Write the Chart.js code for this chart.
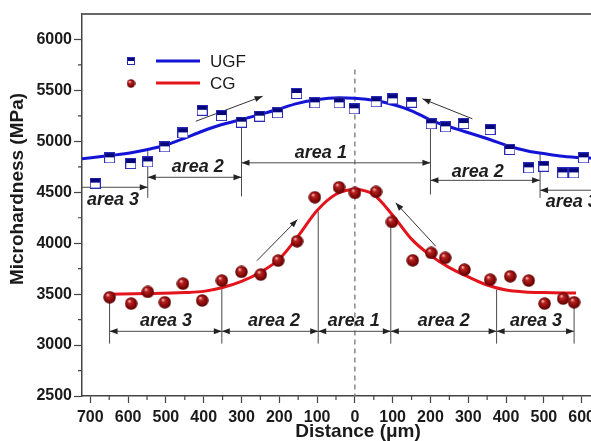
<!DOCTYPE html>
<html>
<head>
<meta charset="utf-8">
<script src="https://cdn.jsdelivr.net/npm/chart.js@4.4.0/dist/chart.umd.min.js"></script>
<style>
  html, body { margin: 0; padding: 0; background: #fff; overflow: hidden; }
  #wrap { width: 640px; height: 441px; }
</style>
</head>
<body>
<div id="wrap"><canvas id="chart" width="640" height="441"></canvas></div>
<script>
// distance in µm, negative = left of the centre line
const ugfX = [-687, -649, -593, -548, -503, -455, -404, -353, -300, -252, -205, -154, -106, -42, -2, 56, 100, 150, 202, 240, 288, 358, 410, 460, 500, 550, 579, 605];
const ugfY = [4590, 4838, 4782, 4798, 4946, 5083, 5305, 5253, 5188, 5247, 5280, 5470, 5378, 5378, 5319, 5388, 5417, 5384, 5172, 5142, 5175, 5116, 4920, 4740, 4756, 4690, 4690, 4838];

const cgX = [-649, -592, -548, -503, -455, -404, -352, -300, -249, -203, -153, -106, -42, 0, 56, 98, 153, 202, 239, 290, 358, 411, 460, 502, 551, 580];
const cgY = [3469, 3407, 3522, 3420, 3603, 3438, 3633, 3718, 3692, 3829, 4019, 4451, 4549, 4494, 4504, 4209, 3832, 3905, 3856, 3740, 3642, 3675, 3633, 3407, 3456, 3420];

// fitted curves
const ugfFitX = [-722, -649, -592, -548, -503, -455, -404, -352, -300, -252, -205, -154, -106, -42, -2, 56, 100, 150, 201, 239, 288, 357, 408, 460, 499, 550, 604, 720];
const ugfFitY = [4828, 4860, 4887, 4919, 4961, 5025, 5099, 5165, 5214, 5263, 5312, 5370, 5405, 5427, 5422, 5398, 5361, 5300, 5208, 5155, 5099, 5018, 4952, 4903, 4880, 4853, 4838, 4822];

const cgFitX = [-650, -550, -450, -400, -350, -300, -250, -200, -150, -100, -50, 0, 50, 100, 150, 200, 250, 300, 350, 400, 450, 500, 585];
const cgFitY = [3500, 3505, 3515, 3527, 3565, 3625, 3715, 3845, 4070, 4320, 4480, 4527, 4475, 4275, 4040, 3880, 3760, 3670, 3590, 3540, 3522, 3515, 3510];

const xTicks = [-700, -600, -500, -400, -300, -200, -100, 0, 100, 200, 300, 400, 500, 600, 700];
const yTicks = [2500, 3000, 3500, 4000, 4500, 5000, 5500, 6000];

// zone markers for the UGF curve
const ugfLineX = [-548, -300, 200, 490];
const ugfLineTop = [4903, 5182, 5165, 4887];
const ugfLineBottom = [4445, 4460, 4478, 4445];
const ugfSpanFrom = [-722, -548, -300, 200, 490];
const ugfSpanTo = [-548, -300, 200, 490, 720];
const ugfSpanY = [4549, 4647, 4789, 4617, 4520];
const ugfSpanHeads = ['end', 'both', 'both', 'both', 'start'];
const ugfLabels = ['area 3', 'area 2', 'area 1', 'area 2', 'area 3'];
const ugfLabelX = [-640, -416, -90, 325, 574];
const ugfLabelY = [4428, 4743, 4890, 4703, 4408];

// zone markers for the CG curve
const cgLineX = [-649, -352, -97, 95, 375, 580];
const cgLineTop = [3469, 3613, 4313, 4200, 3544, 3426];
const cgLineBottom = 3014;
const cgSpanY = 3135;
const cgLabels = ['area 3', 'area 2', 'area 1', 'area 2', 'area 3'];
const cgLabelX = [-500, -214, -3, 235, 479];
const cgLabelY = 3233;

// trend arrows (tail -> head)
const trendFromX = [-421, 311, -259, 214];
const trendFromY = [5197, 5221, 3829, 3970];
const trendToX = [-244, 179, -152, 108];
const trendToY = [5443, 5417, 4232, 4396];

const FONT = '"Liberation Sans", Arial, sans-serif';

function squareMarker(size) {
    const c = document.createElement('canvas');
    c.width = size; c.height = size;
    const g = c.getContext('2d');
    g.fillStyle = '#fff';
    g.fillRect(0, 0, size, size);
    g.fillStyle = '#06067a';
    g.fillRect(0, 0, size, Math.floor(size / 2));
    g.strokeStyle = '#2a2ab8';
    g.lineWidth = 1;
    g.strokeRect(0.5, 0.5, size - 1, size - 1);
    return c;
}

function sphereMarker(size) {
    const c = document.createElement('canvas');
    c.width = size; c.height = size;
    const g = c.getContext('2d');
    const r = size / 2;
    const grad = g.createRadialGradient(r * 0.7, r * 0.6, 0.5, r, r, r);
    grad.addColorStop(0, '#f4b0b0');
    grad.addColorStop(0.25, '#b82020');
    grad.addColorStop(0.75, '#7c0606');
    grad.addColorStop(1, '#4a0000');
    g.fillStyle = grad;
    g.beginPath();
    g.arc(r, r, r - 0.3, 0, Math.PI * 2);
    g.fill();
    return c;
}

const squareImg = squareMarker(11);
const sphereImg = sphereMarker(13);

function arrowHead(ctx, x1, y1, x2, y2) {
    const a = Math.atan2(y2 - y1, x2 - x1);
    const len = 8, half = 3;
    ctx.beginPath();
    ctx.moveTo(x2, y2);
    ctx.lineTo(x2 - len * Math.cos(a) + half * Math.sin(a), y2 - len * Math.sin(a) - half * Math.cos(a));
    ctx.lineTo(x2 - len * Math.cos(a) - half * Math.sin(a), y2 - len * Math.sin(a) + half * Math.cos(a));
    ctx.closePath();
    ctx.fill();
}

function span(ctx, x1, x2, y, heads) {
    ctx.beginPath();
    ctx.moveTo(x1, y);
    ctx.lineTo(x2, y);
    ctx.stroke();
    if (heads === 'end' || heads === 'both') arrowHead(ctx, x1, y, x2, y);
    if (heads === 'start' || heads === 'both') arrowHead(ctx, x2, y, x1, y);
}

const overlay = {
    id: 'overlay',
    beforeDatasetsDraw(chart) {
        const { ctx, chartArea: area, scales: { x, y } } = chart;
        const X = v => x.getPixelForValue(v);
        const Y = v => y.getPixelForValue(v);
        ctx.save();

        // minor ticks
        ctx.strokeStyle = '#444';
        ctx.lineWidth = 1.2;
        ctx.beginPath();
        for (let v = -650; v <= 650; v += 100) {
            ctx.moveTo(X(v), area.bottom);
            ctx.lineTo(X(v), area.bottom + 4);
        }
        for (let v = 2750; v < 6250; v += 500) {
            ctx.moveTo(area.left - 4, Y(v));
            ctx.lineTo(area.left, Y(v));
        }
        ctx.stroke();

        // top frame line
        ctx.strokeStyle = '#666';
        ctx.lineWidth = 2;
        ctx.beginPath();
        ctx.moveTo(area.left, area.top);
        ctx.lineTo(area.right, area.top);
        ctx.lineTo(area.right, area.bottom);
        ctx.stroke();

        // centre dashed line
        ctx.strokeStyle = '#777';
        ctx.lineWidth = 1.3;
        ctx.setLineDash([5, 4]);
        ctx.beginPath();
        ctx.moveTo(X(0), Y(5705));
        ctx.lineTo(X(0), Y(2500));
        ctx.stroke();
        ctx.setLineDash([]);

        // zone lines
        ctx.strokeStyle = '#4a4a4a';
        ctx.fillStyle = '#222';
        ctx.lineWidth = 1;
        ctx.beginPath();
        ugfLineX.forEach((v, i) => {
            ctx.moveTo(X(v), Y(ugfLineTop[i]));
            ctx.lineTo(X(v), Y(ugfLineBottom[i]));
        });
        cgLineX.forEach((v, i) => {
            ctx.moveTo(X(v), Y(cgLineTop[i]));
            ctx.lineTo(X(v), Y(cgLineBottom));
        });
        ctx.stroke();

        ugfSpanFrom.forEach((v, i) => span(ctx, X(v), X(ugfSpanTo[i]), Y(ugfSpanY[i]), ugfSpanHeads[i]));
        for (let i = 0; i < cgLineX.length - 1; i++) span(ctx, X(cgLineX[i]), X(cgLineX[i + 1]), Y(cgSpanY), 'both');

        ctx.font = 'italic bold 18px ' + FONT;
        ctx.textAlign = 'center';
        ctx.textBaseline = 'middle';
        ctx.fillStyle = '#1e1e1e';
        ugfLabels.forEach((t, i) => ctx.fillText(t, X(ugfLabelX[i]), Y(ugfLabelY[i])));
        cgLabels.forEach((t, i) => ctx.fillText(t, X(cgLabelX[i]), Y(cgLabelY)));

        // trend arrows
        ctx.strokeStyle = '#333';
        ctx.fillStyle = '#222';
        ctx.lineWidth = 1;
        trendFromX.forEach((v, i) => {
            const x1 = X(v), y1 = Y(trendFromY[i]), x2 = X(trendToX[i]), y2 = Y(trendToY[i]);
            ctx.beginPath();
            ctx.moveTo(x1, y1);
            ctx.lineTo(x2, y2);
            ctx.stroke();
            arrowHead(ctx, x1, y1, x2, y2);
        });
        ctx.restore();
    },
    afterDraw(chart) {
        const { ctx } = chart;
        ctx.save();
        // legend
        ctx.lineWidth = 3;
        ctx.strokeStyle = '#1414d6';
        ctx.beginPath(); ctx.moveTo(156, 61); ctx.lineTo(200, 61); ctx.stroke();
        ctx.strokeStyle = '#e3141c';
        ctx.beginPath(); ctx.moveTo(156, 83); ctx.lineTo(200, 83); ctx.stroke();
        ctx.drawImage(squareMarker(8), 127, 57);
        ctx.drawImage(sphereMarker(9), 126.5, 79);
        ctx.fillStyle = '#1a1a1a';
        ctx.font = '17px ' + FONT;
        ctx.textAlign = 'left';
        ctx.textBaseline = 'middle';
        ctx.fillText('UGF', 210, 62);
        ctx.fillText('CG', 210, 84);

        // axis titles
        ctx.font = 'bold 19px ' + FONT;
        ctx.textAlign = 'center';
        ctx.fillText('Distance (\u03bcm)', 358, 432);
        ctx.translate(18, 189);
        ctx.rotate(-Math.PI / 2);
        ctx.fillText('Microhardness (MPa)', 0, 0);
        ctx.restore();
    }
};

const tickFont = { family: FONT, size: 16, weight: 'bold' };

new Chart(document.getElementById('chart'), {
    type: 'scatter',
    data: {
        datasets: [
            { label: 'UGF', data: ugfX.map((v, i) => ({ x: v, y: ugfY[i] })), pointStyle: squareImg, order: 0 },
            { label: 'CG', data: cgX.map((v, i) => ({ x: v, y: cgY[i] })), pointStyle: sphereImg, order: 0 },
            { label: 'UGF fit', data: ugfFitX.map((v, i) => ({ x: v, y: ugfFitY[i] })), showLine: true, pointRadius: 0,
              borderColor: '#1414d6', borderWidth: 3, cubicInterpolationMode: 'monotone', order: 1 },
            { label: 'CG fit', data: cgFitX.map((v, i) => ({ x: v, y: cgFitY[i] })), showLine: true, pointRadius: 0,
              borderColor: '#e3141c', borderWidth: 3, cubicInterpolationMode: 'monotone', order: 1 }
        ]
    },
    options: {
        responsive: false,
        animation: false,
        layout: { padding: { top: 14, right: 13, left: 0, bottom: 0 } },
        plugins: { legend: { display: false }, tooltip: { enabled: false } },
        scales: {
            x: {
                type: 'linear', min: -722, max: 720,
                afterBuildTicks: s => { s.ticks = xTicks.map(v => ({ value: v })); },
                afterFit: s => { s.height = 45; },
                ticks: { callback: v => String(Math.abs(v)), font: tickFont, color: '#1a1a1a', padding: 5, maxRotation: 0, autoSkip: false },
                grid: { drawOnChartArea: false, tickLength: 7, tickColor: '#444', tickWidth: 1.2 },
                border: { color: '#444', width: 1.5 }
            },
            y: {
                min: 2500, max: 6250,
                afterBuildTicks: s => { s.ticks = yTicks.map(v => ({ value: v })); },
                afterFit: s => { s.width = 82; },
                ticks: { callback: v => String(v), font: tickFont, color: '#1a1a1a', padding: 2 },
                grid: { drawOnChartArea: false, tickLength: 8, tickColor: '#444', tickWidth: 1.2 },
                border: { color: '#444', width: 1.5 }
            }
        }
    },
    plugins: [overlay]
});
</script>
</body>
</html>
